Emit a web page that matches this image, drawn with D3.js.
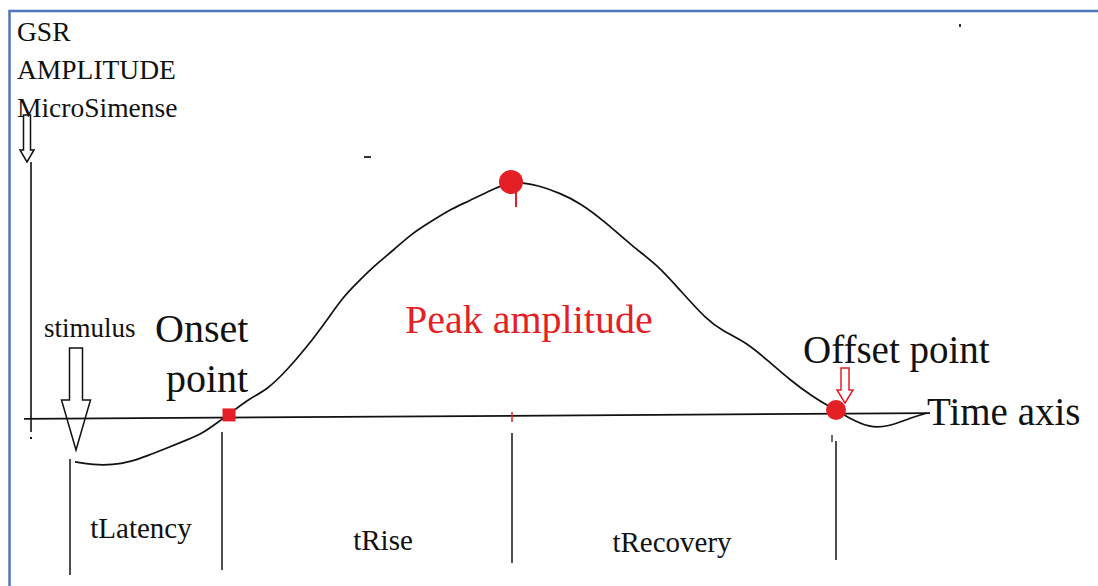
<!DOCTYPE html>
<html>
<head>
<meta charset="utf-8">
<script src="https://cdn.jsdelivr.net/npm/d3@7"></script>
</head>
<body style="margin:0;background:#fff">
<div id="chart"></div>
<script>
// GSR response curve (time in s, amplitude in arbitrary units, peak = 10)
const curveTime = [0.44, 0.62, 0.82, 0.99, 1.16, 1.36, 1.56, 1.72, 1.86, 1.97, 2.19, 2.36, 2.56, 2.76, 2.96,
  3.12, 3.29, 3.42, 3.62, 3.82, 3.99, 4.22, 4.36, 4.67, 4.80, 4.92, 5.06, 5.29, 5.49, 5.72, 6.02, 6.26,
  6.49, 6.76, 6.92, 7.16, 7.36, 7.59, 7.82, 7.99, 8.05, 8.16, 8.39, 8.56, 8.82, 8.96]
const curveAmp = [-1.86, -1.99, -1.99, -1.86, -1.61, -1.27, -0.93, -0.64, -0.21, 0.13, 0.85, 1.19, 2.03, 3.01, 4.15,
  5.13, 5.85, 6.40, 7.10, 7.85, 8.30, 8.90, 9.15, 9.80, 10.0, 9.96, 9.87, 9.53, 9.11, 8.39, 7.25, 6.50,
  5.42, 4.15, 3.68, 3.18, 2.46, 1.61, 0.89, 0.47, 0.34, 0.04, -0.42, -0.38, 0.04, 0.21]

// event times: stimulus, onset, peak, offset
const eventNames = ['stimulus', 'onset', 'peak', 'offset']
const eventTimes = [0.39, 1.91, 4.81, 8.05]
const markerTimes = [1.98, 4.80, 8.05]
const markerAmps = [0.13, 10.0, 0.34]

const intervalLabels = ['tLatency', 'tRise', 'tRecovery']
const yAxisTitle = ['GSR', 'AMPLITUDE', 'MicroSimense']

const W = 1098
const H = 586
const red = '#e41f26'
const ink = '#111'

const svg = d3.select('#chart').append('svg')
  .attr('width', W)
  .attr('height', H)
  .style('display', 'block')

const x = d3.scaleLinear().domain([0, 9]).range([31, 931])
const y = d3.scaleLinear().domain([0, 10]).range([418, 182])

// frame (left and top edge only)
svg.append('path')
  .attr('d', `M9.5,${H} L9.5,11 L${W},11`)
  .attr('fill', 'none')
  .attr('stroke', '#4f78b8')
  .attr('stroke-width', 2.5)

// stray marks
svg.append('rect').attr('x', 364).attr('y', 156).attr('width', 7).attr('height', 2).attr('fill', '#333')
svg.append('rect').attr('x', 959).attr('y', 24).attr('width', 2).attr('height', 3).attr('fill', '#333')

// all text goes through one selection so the font is set the same way everywhere
const texts = []
function label (tx, ty, size, color, str, anchor) {
  texts.push({ tx, ty, size, color, str, anchor: anchor || 'start' })
}

// y title
yAxisTitle.forEach((d, i) => label(17, 41 + i * 38, 27.5, ink, d))

function hollowArrow (tx, ty, len, shaftW, headW, headH, color) {
  const p = d3.path()
  p.moveTo(tx - shaftW / 2, ty - len)
  p.lineTo(tx + shaftW / 2, ty - len)
  p.lineTo(tx + shaftW / 2, ty - headH)
  p.lineTo(tx + headW / 2, ty - headH)
  p.lineTo(tx, ty)
  p.lineTo(tx - headW / 2, ty - headH)
  p.lineTo(tx - shaftW / 2, ty - headH)
  p.closePath()
  svg.append('path')
    .attr('d', p.toString())
    .attr('fill', 'none')
    .attr('stroke', color)
    .attr('stroke-width', 1.5)
}

// y axis
svg.append('line')
  .attr('x1', x(0)).attr('x2', x(0))
  .attr('y1', 162).attr('y2', 432)
  .attr('stroke', ink).attr('stroke-width', 1.6)
svg.append('rect').attr('x', x(0) - 1).attr('y', 437).attr('width', 2).attr('height', 2).attr('fill', ink)
hollowArrow(x(0) - 4, 162, 47, 7, 14, 12, ink)

// time axis (drawn slightly tilted as in the sketch)
svg.append('line')
  .attr('x1', x(-0.07)).attr('y1', y(-0.04))
  .attr('x2', x(8.99)).attr('y2', y(0.21))
  .attr('stroke', ink).attr('stroke-width', 1.8)

// red tick under the peak
svg.append('line')
  .attr('x1', x(eventTimes[2])).attr('x2', x(eventTimes[2]))
  .attr('y1', 412).attr('y2', 422)
  .attr('stroke', red).attr('stroke-width', 1.5)

// drop lines under each event
const dropExtent = [[459, 575], [432, 570], [433, 563], [441, 560]]
svg.append('g').selectAll('line')
  .data(eventTimes)
  .join('line')
  .attr('x1', d => x(d)).attr('x2', d => x(d))
  .attr('y1', (d, i) => dropExtent[i][0])
  .attr('y2', (d, i) => dropExtent[i][1])
  .attr('stroke', '#222')
  .attr('stroke-width', 1.6)
svg.append('line')
  .attr('x1', x(eventTimes[3]) - 4).attr('x2', x(eventTimes[3]) - 4)
  .attr('y1', 435).attr('y2', 442)
  .attr('stroke', '#222').attr('stroke-width', 1.3)

// interval labels
const labelPos = [[-5, 538], [16, 550], [-2, 552]]
intervalLabels.forEach((d, i) => {
  label((x(eventTimes[i]) + x(eventTimes[i + 1])) / 2 + labelPos[i][0], labelPos[i][1], 29, ink, d, 'middle')
})

// response curve
const pts = curveTime.map((t, i) => [x(t), y(curveAmp[i])])
svg.append('path')
  .datum(pts)
  .attr('fill', 'none')
  .attr('stroke', ink)
  .attr('stroke-width', 1.7)
  .attr('d', d3.line().curve(d3.curveBasis))

// stimulus arrow and label
hollowArrow(x(eventTimes[0]) + 6, 450, 102, 13, 29, 50, ink)
label(44, 337, 27, ink, 'stimulus')

// markers
svg.append('rect')
  .attr('x', x(markerTimes[0]) - 6.5).attr('y', y(markerAmps[0]) - 6.5)
  .attr('width', 13).attr('height', 13)
  .attr('fill', red)
svg.append('circle')
  .attr('cx', x(markerTimes[1])).attr('cy', y(markerAmps[1]))
  .attr('r', 12).attr('fill', red)
svg.append('line')
  .attr('x1', x(markerTimes[1]) + 5).attr('x2', x(markerTimes[1]) + 5)
  .attr('y1', y(markerAmps[1]) + 8).attr('y2', y(markerAmps[1]) + 25)
  .attr('stroke', red).attr('stroke-width', 2)
svg.append('circle')
  .attr('cx', x(markerTimes[2])).attr('cy', y(markerAmps[2]))
  .attr('r', 10).attr('fill', red)

// offset arrow (red, hollow)
hollowArrow(x(eventTimes[3]) + 9, 403, 35, 8, 16, 13, red)

// big labels
label(155, 342, 40, ink, 'Onset')
label(166, 392, 40, ink, 'point')
label(405, 333, 40, red, 'Peak amplitude')
label(803, 363, 39, ink, 'Offset point')
label(927, 425, 39, ink, 'Time axis')

svg.append('g').selectAll('text')
  .data(texts)
  .join('text')
  .attr('x', d => d.tx)
  .attr('y', d => d.ty)
  .attr('font-size', d => d.size)
  .attr('fill', d => d.color)
  .attr('text-anchor', d => d.anchor)
  .style('font-family', '"Liberation Serif"')
  .text(d => d.str)
</script>
</body>
</html>
